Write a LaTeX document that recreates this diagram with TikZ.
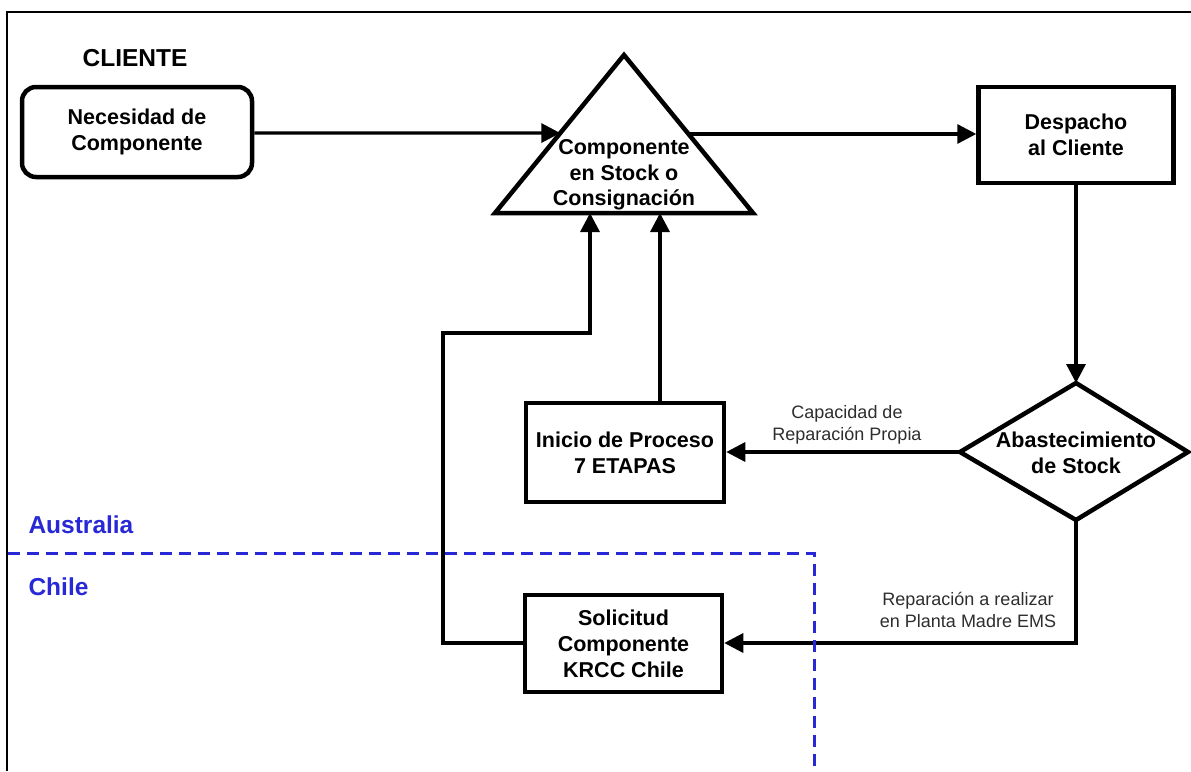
\documentclass[tikz,border=0pt]{standalone}
\usepackage{fontspec}
\setmainfont{Liberation Sans}
\usetikzlibrary{arrows.meta,calc}
\definecolor{zoneblue}{RGB}{40,40,215}
\definecolor{labelgray}{RGB}{45,45,45}
\tikzset{
  box/.style={draw, line width=4.5pt, align=center,
    font=\fontsize{21.5}{26}\selectfont\bfseries},
  boxtext/.style={align=center, font=\fontsize{21.5}{25.5}\selectfont\bfseries},
  shapeline/.style={line width=4.5pt, line join=miter},
  flow/.style={line width=3.3pt, -{Triangle[length=19pt,width=19pt]}},
  edgelabel/.style={align=center, text=labelgray, font=\fontsize{18}{22}\selectfont},
  zonelabel/.style={anchor=base west, text=zoneblue, font=\fontsize{24.5}{28}\selectfont\bfseries},
  zoneline/.style={draw=zoneblue, line width=3pt, dash pattern=on 12pt off 7pt},
}
\begin{document}
\begin{tikzpicture}[x=1pt,y=-1pt]
\useasboundingbox (0,0) rectangle (1191,771);
% outer frame (top and left edges)
\draw[line width=2pt] (7,771) -- (7,12) -- (1191,12);

% client side
\node[boxtext, font=\fontsize{24.5}{28}\selectfont\bfseries] (cliente) at (135,58.5) {CLIENTE};
\node[box, rounded corners=14pt, minimum width=230pt, minimum height=90pt] (need) at (137,132) {Necesidad de\\Componente};

% stock triangle
\coordinate (tA) at (624,55);
\coordinate (tL) at (495,213);
\coordinate (tR) at (753,213);
\draw[shapeline] (tL) -- (tA) -- (tR) -- cycle;
\node[boxtext] (stock) at (624,175) {Componente\\en Stock o\\Consignación};
\coordinate (tInL) at ($(tL)!0.506!(tA)$);
\coordinate (tOutR) at ($(tR)!0.50!(tA)$);
\coordinate (tBase1) at (590,213);
\coordinate (tBase2) at (660,213);

% dispatch box
\node[box, minimum width=195pt, minimum height=96pt] (desp) at (1076,135) {Despacho\\al Cliente};

% stock replenishment decision
\coordinate (dT) at (1076,383);
\coordinate (dL) at (960,452);
\coordinate (dR) at (1188,452);
\coordinate (dB) at (1076,520);
\draw[shapeline] (dT) -- (dR) -- (dB) -- (dL) -- cycle;
\node[boxtext] (abas) at (1076,453) {Abastecimiento\\de Stock};

% process boxes
\node[box, minimum width=198pt, minimum height=99pt] (inicio) at (625,452.5) {Inicio de Proceso\\7 ETAPAS};
\node[box, minimum width=197pt, minimum height=97pt] (solic) at (623.5,643.5) {Solicitud\\Componente\\KRCC Chile};

% connectors
\draw[flow] (need.east |- 0,133) -- (tInL);
\draw[flow] (tOutR) -- (desp.west |- tOutR);
\draw[flow] (desp.south) -- (dT);
\draw[flow] (dL) -- (inicio.east |- dL);
\draw[flow] (inicio.north -| tBase2) -- (tBase2);
\draw[flow] (dB) -- (1076,643) -- (solic.east |- 0,643);
\draw[flow] (solic.west |- 0,643) -- (443,643) -- (443,333) -- (590,333) -- (tBase1);

% connector labels
\node[edgelabel] (lblprop) at (847,424.5) {Capacidad de\\Reparación Propia};
\node[edgelabel] (lblems) at (968,609.5) {Reparación a realizar\\en Planta Madre EMS};

% country zones
\draw[zoneline] (8,553) -- (814,553) -- (814,771);
\node[zonelabel] (aus) at (25,533) {Australia};
\node[zonelabel] (chl) at (25,595) {Chile};
\end{tikzpicture}
\end{document}
